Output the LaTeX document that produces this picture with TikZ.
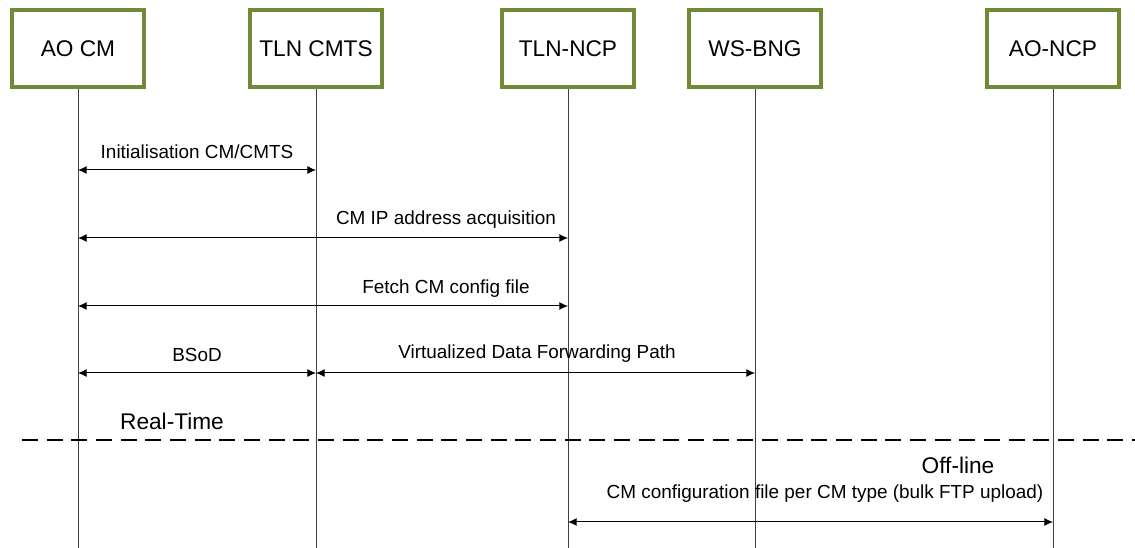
\documentclass[tikz,border=0pt]{standalone}
\usepackage{fontspec}
\setmainfont{Liberation Sans}
\usetikzlibrary{arrows.meta}
\definecolor{boxgreen}{RGB}{113,138,56}
\tikzset{
  actor/.style={draw=boxgreen, line width=3pt, fill=white, minimum width=99pt, minimum height=58pt, inner sep=0pt, font=\fontsize{17}{20}\selectfont},
  life/.style={draw=black!75, line width=0.75pt},
  msg/.style={draw=black, line width=0.75pt, {Latex[length=6.5pt,width=6pt]}-{Latex[length=6.5pt,width=6pt]}},
  lbl/.style={inner sep=0pt, font=\fontsize{14.2}{17}\selectfont},
  big/.style={inner sep=0pt, font=\fontsize{17}{20}\selectfont},
  sep/.style={draw=black, line width=1.5pt, dash pattern=on 12pt off 6.5pt}
}
\begin{document}
\begin{tikzpicture}[x=0.75pt,y=-0.75pt]
\useasboundingbox (0,0) rectangle (1135,548);
% actors
\node[actor] (ao) at (78,48.5) {AO CM};
\node[actor] (tc) at (316,48.5) {TLN CMTS};
\node[actor] (tn) at (568,48.5) {TLN-NCP};
\node[actor] (ws) at (755,48.5) {WS-BNG};
\node[actor] (an) at (1053,48.5) {AO-NCP};
% lifeline ends
\coordinate (aoE) at (78,548);
\coordinate (tcE) at (316,548);
\coordinate (tnE) at (568,548);
\coordinate (wsE) at (755,548);
\coordinate (anE) at (1053,548);
\foreach \a in {ao,tc,tn,ws,an} \draw[life] (\a.south) -- (\a E);
% message anchor points
\coordinate (m1a) at (78,170);  \coordinate (m1b) at (316,170);
\coordinate (m2a) at (78,238);  \coordinate (m2b) at (568,238);
\coordinate (m3a) at (78,306);  \coordinate (m3b) at (568,306);
\coordinate (m4a) at (78,373);  \coordinate (m4b) at (316,373);
\coordinate (m5a) at (316,373); \coordinate (m5b) at (755,373);
\coordinate (m6a) at (568,522); \coordinate (m6b) at (1053,522);
\draw[msg] (m1a) -- (m1b);
\draw[msg] (m2a) -- (m2b);
\draw[msg] (m3a) -- (m3b);
\draw[msg] (m4a) -- (m4b);
\draw[msg] (m5a) -- (m5b);
\draw[msg] (m6a) -- (m6b);
% labels
\node[lbl] (l1) at (197,152) {Initialisation CM/CMTS};
\node[lbl] (l2) at (446,220) {CM IP address acquisition};
\node[lbl] (l3) at (446,289) {Fetch CM config file};
\node[lbl] (l4) at (197,355) {BSoD};
\node[lbl] (l5) at (537,354) {Virtualized Data Forwarding Path};
\node[lbl] (l6) at (825,494) {CM configuration file per CM type (bulk FTP upload)};
\node[big] (rt) at (172,421) {Real-Time};
\node[big] (ol) at (958,465) {Off-line};
% separator
\coordinate (sepA) at (22,440);
\coordinate (sepB) at (1135,440);
\draw[sep] (sepA) -- (sepB);
\end{tikzpicture}
\end{document}
